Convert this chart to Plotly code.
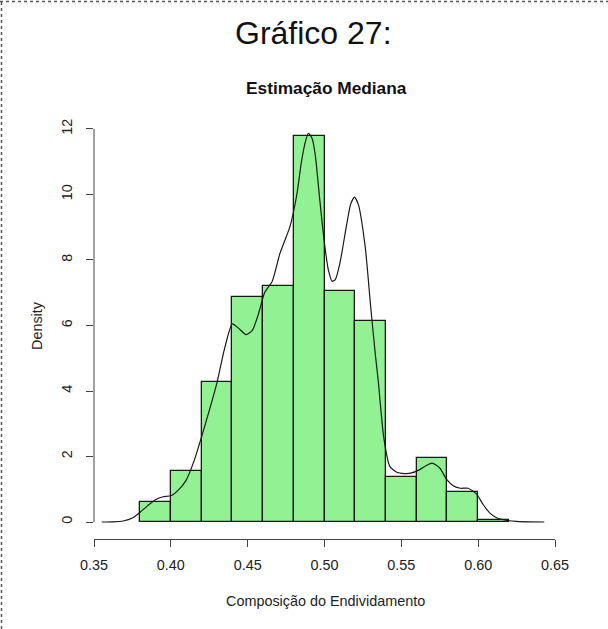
import plotly.graph_objects as go

# Histogram bins (width 0.02) and their densities
bin_left = [0.38, 0.40, 0.42, 0.44, 0.46, 0.48, 0.50, 0.52, 0.54, 0.56, 0.58, 0.60]
bin_width = 0.02
density = [0.62, 1.57, 4.27, 6.88, 7.21, 11.80, 7.05, 6.14, 1.38, 1.95, 0.91, 0.06]

# Kernel density estimate
kde_x = [0.355, 0.362, 0.369, 0.375, 0.380, 0.385, 0.390, 0.395, 0.400, 0.405,
         0.410, 0.415, 0.420, 0.425, 0.430, 0.435, 0.440, 0.444, 0.449, 0.453,
         0.457, 0.461, 0.466, 0.471, 0.4775, 0.482, 0.485, 0.4875, 0.4895, 0.492,
         0.494, 0.497, 0.500, 0.5025, 0.505, 0.507, 0.510, 0.5145, 0.517, 0.5195,
         0.522, 0.5265, 0.530, 0.533, 0.535, 0.5385, 0.5425, 0.547, 0.552, 0.556,
         0.562, 0.566, 0.570, 0.575, 0.5795, 0.584, 0.5885, 0.5935, 0.599, 0.603,
         0.6075, 0.612, 0.6185, 0.625, 0.633, 0.643]
kde_y = [0.0, 0.005, 0.03, 0.12, 0.30, 0.50, 0.68, 0.77, 0.80, 0.98,
         1.28, 1.85, 2.60, 3.40, 4.25, 5.30, 6.05, 5.92, 5.72, 5.85,
         6.35, 7.00, 7.35, 8.20, 9.02, 10.0, 11.0, 11.6, 11.87, 11.7,
         11.2, 9.8, 8.5, 7.7, 7.35, 7.4, 7.9, 9.1, 9.7, 9.92,
         9.7, 8.4, 6.6, 5.15, 4.3, 2.6, 1.7, 1.52, 1.48, 1.49,
         1.6, 1.72, 1.8, 1.65, 1.3, 1.1, 1.03, 1.03, 0.85, 0.55,
         0.28, 0.13, 0.05, 0.02, 0.005, 0.0]

x_ticks = [0.35, 0.40, 0.45, 0.50, 0.55, 0.60, 0.65]
y_ticks = [0, 2, 4, 6, 8, 10, 12]

FONT = "Liberation Sans, Arial, Helvetica, sans-serif"
INK = "#222222"
AXIS = "#444444"

bin_centers = [b + bin_width / 2 for b in bin_left]

fig = go.Figure()
fig.add_trace(go.Bar(
    x=bin_centers, y=density, width=bin_width,
    marker=dict(color="#92F192", line=dict(color="#1a1a1a", width=1.3)),
    hoverinfo="x+y",
))
fig.add_trace(go.Scatter(
    x=kde_x, y=kde_y, mode="lines",
    line=dict(color="#1a1a1a", width=1.2, shape="spline", smoothing=0.6),
))

W, H = 608, 629
L, R, T, B = 94, 53, 119, 90
pw, ph = W - L - R, H - T - B


def px_x(p):
    return (p - L) / pw


def px_y(p):
    return (H - B - p) / ph


fig.update_layout(
    width=W, height=H,
    margin=dict(l=L, r=R, t=T, b=B, pad=0),
    paper_bgcolor="white", plot_bgcolor="white",
    showlegend=False, bargap=0,
    font=dict(family=FONT, color=INK, size=14.4),
    xaxis=dict(
        range=[0.35, 0.65], tickvals=x_ticks,
        ticktext=[f"{v:.2f}" for v in x_ticks],
        showgrid=False, zeroline=False,
        showline=True, linecolor=AXIS, linewidth=1,
        ticks="outside", ticklen=7, tickcolor=AXIS, tickwidth=1,
        ticklabelstandoff=6,
        tickfont=dict(size=14.4, color=INK),
    ),
    yaxis=dict(
        range=[-0.519, 12.305], tickvals=y_ticks,
        showgrid=False, zeroline=False, showline=False,
        ticks="outside", ticklen=7, tickcolor=AXIS, tickwidth=1,
        tickangle=-90, ticklabelstandoff=8,
        tickfont=dict(size=14.4, color=INK),
    ),
    shapes=[
        # y axis line spanning the tick range only
        dict(type="line", xref="paper", yref="y", x0=0, x1=0,
             y0=y_ticks[0], y1=y_ticks[-1], line=dict(color=AXIS, width=1)),
        # dotted page frame (top and left)
        dict(type="line", xref="paper", yref="paper",
             x0=px_x(0), x1=px_x(W), y0=px_y(1.5), y1=px_y(1.5),
             line=dict(color="#555555", width=1.5, dash="dot")),
        dict(type="line", xref="paper", yref="paper",
             x0=px_x(1.5), x1=px_x(1.5), y0=px_y(H), y1=px_y(0),
             line=dict(color="#555555", width=1.5, dash="dot")),
    ],
    annotations=[
        dict(text="Gráfico 27:", xref="paper", yref="paper",
             x=px_x(313), y=px_y(33), xanchor="center", yanchor="middle",
             showarrow=False, font=dict(size=32, color="#111111", family=FONT)),
        dict(text="<b>Estimação Mediana</b>", xref="paper", yref="paper",
             x=px_x(326), y=px_y(88), xanchor="center", yanchor="middle",
             showarrow=False, font=dict(size=17.3, color="#111111", family=FONT)),
        dict(text="Composição do Endividamento", xref="paper", yref="paper",
             x=px_x(325), y=px_y(601), xanchor="center", yanchor="middle",
             showarrow=False, font=dict(size=14.4, color=INK, family=FONT)),
        dict(text="Density", xref="paper", yref="paper", textangle=-90,
             x=px_x(37), y=px_y(326), xanchor="center", yanchor="middle",
             showarrow=False, font=dict(size=14.4, color=INK, family=FONT)),
    ],
)

fig.write_html("out.html")
